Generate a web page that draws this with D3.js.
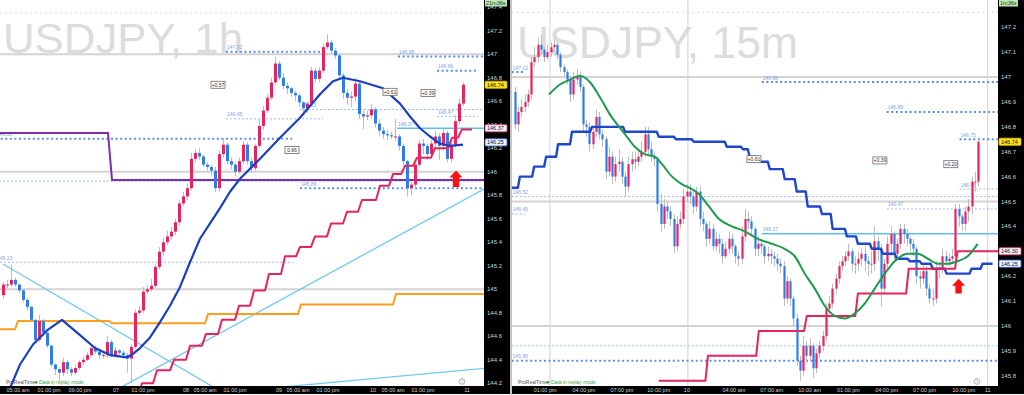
<!DOCTYPE html>
<html>
<head>
<meta charset="utf-8">
<script src="https://cdn.jsdelivr.net/npm/d3@7"></script>
<style>
  body { margin: 0; background: #fff; }
  svg { display: block; font-family: "Liberation Sans", Arial, sans-serif; }
</style>
</head>
<body>
<svg id="svg" width="1024" height="395"></svg>
<script>
// ---------- left chart : USDJPY 1h ----------
var leftTimeLabels = ["05:00 am", "01:00 pm", "09:00 pm", "07", "01:00 pm", "08", "05:00 am", "01:00 pm",
  "09", "05:00 am", "01:00 pm", "10", "05:00 am", "01:00 pm", "11"];
var leftTimeIdx = [3.75, 11.5, 19.25, 28.25, 35, 45.75, 50.5, 58, 69, 73.75, 81.25, 92.5, 97.5, 105, 116];
var leftPriceTicks = [144.2, 144.4, 144.6, 144.8, 145, 145.2, 145.4, 145.6, 145.8, 146, 146.2, 146.4,
  146.6, 146.8, 147, 147.2, 147.4];

var leftOpen = [144.95, 145.04, 145.04, 145.08, 145.04, 144.99, 144.91, 144.85, 144.74, 144.57,
  144.73, 144.63, 144.52, 144.36, 144.32, 144.29, 144.38, 144.32, 144.29, 144.33,
  144.38, 144.40, 144.44, 144.50, 144.47, 144.44, 144.44, 144.55, 144.44, 144.48,
  144.46, 144.44, 144.41, 144.51, 144.80, 144.82, 144.98, 145.00, 145.03, 145.19,
  145.32, 145.40, 145.45, 145.49, 145.57, 145.73, 145.79, 145.86, 146.11, 146.16,
  146.13, 146.06, 146.04, 146.01, 145.86, 146.15, 146.23, 146.09, 146.06, 146.00,
  146.09, 146.23, 146.09, 146.03, 146.22, 146.39, 146.52, 146.63, 146.76, 146.92,
  146.80, 146.73, 146.71, 146.67, 146.65, 146.59, 146.54, 146.58, 146.86, 146.79,
  146.86, 147.06, 147.10, 147.03, 146.99, 146.82, 146.67, 146.63, 146.64, 146.75,
  146.49, 146.47, 146.48, 146.53, 146.41, 146.35, 146.32, 146.31, 146.30, 146.30,
  146.22, 146.09, 145.86, 145.89, 146.06, 146.24, 146.22, 146.15, 146.24, 146.30,
  146.22, 146.33, 146.11, 146.23, 146.43, 146.58];
var leftHigh = [145.06, 145.08, 145.21, 145.10, 145.05, 145.00, 144.93, 144.86, 144.75, 144.78,
  144.75, 144.64, 144.53, 144.37, 144.34, 144.42, 144.40, 144.34, 144.36, 144.40,
  144.43, 144.47, 144.53, 144.52, 144.49, 144.47, 144.60, 144.57, 144.51, 144.49,
  144.48, 144.46, 144.53, 144.83, 144.86, 145.02, 145.04, 145.09, 145.22, 145.36,
  145.44, 145.50, 145.53, 145.60, 145.76, 145.83, 145.90, 146.16, 146.19, 146.20,
  146.15, 146.08, 146.06, 146.04, 146.18, 146.28, 146.25, 146.12, 146.08, 146.12,
  146.26, 146.25, 146.12, 146.24, 146.45, 146.56, 146.66, 146.80, 146.98, 146.94,
  146.84, 146.76, 146.72, 146.69, 146.67, 146.60, 146.60, 146.89, 146.88, 146.89,
  147.09, 147.17, 147.12, 147.05, 147.00, 146.84, 146.70, 146.68, 146.80, 146.77,
  146.52, 146.52, 146.58, 146.55, 146.45, 146.38, 146.36, 146.34, 146.45, 146.32,
  146.24, 146.10, 145.92, 146.08, 146.27, 146.28, 146.24, 146.27, 146.35, 146.33,
  146.36, 146.35, 146.26, 146.48, 146.62, 146.76];
var leftLow = [144.92, 145.01, 145.02, 145.02, 144.97, 144.89, 144.82, 144.72, 144.55, 144.55,
  144.60, 144.50, 144.34, 144.27, 144.22, 144.26, 144.28, 144.26, 144.27, 144.31,
  144.36, 144.39, 144.42, 144.45, 144.41, 144.41, 144.42, 144.42, 144.42, 144.44,
  144.41, 144.29, 144.20, 144.49, 144.78, 144.80, 144.96, 144.98, 145.01, 145.17,
  145.29, 145.38, 145.42, 145.46, 145.54, 145.71, 145.76, 145.84, 146.08, 146.10,
  146.04, 146.01, 145.97, 145.83, 145.83, 146.12, 146.06, 146.02, 145.96, 145.98,
  146.07, 146.06, 145.99, 146.01, 146.20, 146.36, 146.50, 146.61, 146.74, 146.78,
  146.70, 146.66, 146.64, 146.60, 146.55, 146.48, 146.50, 146.56, 146.76, 146.76,
  146.84, 147.04, 147.00, 146.96, 146.79, 146.62, 146.57, 146.55, 146.60, 146.45,
  146.36, 146.44, 146.45, 146.38, 146.30, 146.28, 146.27, 146.28, 146.26, 146.18,
  146.05, 145.79, 145.80, 145.86, 146.04, 146.15, 146.10, 146.12, 146.20, 146.10,
  146.18, 146.08, 146.08, 146.20, 146.40, 146.56];
var leftClose = [145.04, 145.04, 145.08, 145.04, 144.99, 144.91, 144.85, 144.74, 144.57, 144.73,
  144.63, 144.52, 144.36, 144.32, 144.29, 144.38, 144.32, 144.29, 144.33, 144.38,
  144.40, 144.44, 144.50, 144.47, 144.44, 144.44, 144.55, 144.44, 144.48, 144.46,
  144.44, 144.41, 144.51, 144.80, 144.82, 144.98, 145.00, 145.03, 145.19, 145.32,
  145.40, 145.45, 145.49, 145.57, 145.73, 145.79, 145.86, 146.11, 146.16, 146.13,
  146.06, 146.04, 146.01, 145.86, 146.15, 146.23, 146.09, 146.06, 146.00, 146.09,
  146.23, 146.09, 146.03, 146.22, 146.39, 146.52, 146.63, 146.76, 146.92, 146.80,
  146.73, 146.71, 146.67, 146.65, 146.59, 146.54, 146.58, 146.86, 146.79, 146.86,
  147.06, 147.10, 147.03, 146.99, 146.82, 146.67, 146.63, 146.64, 146.75, 146.49,
  146.47, 146.48, 146.53, 146.41, 146.35, 146.32, 146.31, 146.30, 146.30, 146.22,
  146.09, 145.86, 145.89, 146.06, 146.24, 146.22, 146.15, 146.24, 146.30, 146.22,
  146.33, 146.11, 146.23, 146.43, 146.58, 146.74];

// moving average (blue curve)
var leftMaIdx = [1, 1.75, 4.25, 7.5, 11, 14.75, 19.25, 23, 26.75, 31, 32.5, 34.25, 36.75, 39.25, 41.75,
  44.25, 46.75, 49.25, 51.75, 54.25, 56.75, 59.25, 64.25, 69.25, 74.25, 79.25, 82.5, 85, 89.25, 95,
  99.25, 101.75, 104.25, 106.75, 109.25, 111.75, 115];
var leftMaVal = [144.10, 144.16, 144.36, 144.53, 144.65, 144.74, 144.61, 144.50, 144.44, 144.42, 144.45,
  144.50, 144.59, 144.72, 144.86, 145.02, 145.23, 145.43, 145.56, 145.69, 145.83, 145.94, 146.11, 146.29,
  146.46, 146.66, 146.77, 146.80, 146.77, 146.71, 146.58, 146.47, 146.37, 146.30, 146.24, 146.22, 146.23];

// stepped trailing stop (pink)
var leftStopIdx = [33.5, 34.75, 38.5, 42.75, 46.75, 50.75, 54.75, 59, 62.75, 66.5, 70.5, 74.25, 78, 82, 86,
  89.75, 94.25, 97.5, 100.5, 103.5, 108, 112.25, 114.75];
var leftStopVal = [144.08, 144.20, 144.31, 144.40, 144.52, 144.62, 144.74, 144.86, 144.99, 145.13, 145.28,
  145.36, 145.45, 145.56, 145.66, 145.76, 145.88, 145.98, 146.05, 146.12, 146.20, 146.29, 146.36];
var leftStopEnd = 117.25;

// orange step and purple level
var leftOrangeIdx = [-1, 3.75, 27.25, 51.25, 74.5, 98.25];
var leftOrangeVal = [144.66, 144.73, 144.71, 144.79, 144.87, 144.96];
var leftPurpleIdx = [-1, 26.25, 27.25, 121];
var leftPurpleVal = [146.33, 146.33, 145.93, 145.93];

// trend lines [idx1, price1, idx2, price2]
var leftTrends = [[0, 145.215, 55, 144.12], [27, 144.12, 121, 145.867], [70, 144.169, 121, 144.33]];

// horizontal levels [price, fromIdx, toIdx, label]
var leftRound = [147, 146, 145];
var leftTopDotted = [147.35];
var leftThick = [[147.02, 55.75, 80, "147.02"], [146.98, 98.75, 121, "146.98"], [146.86, 108.5, 118.5, "146.86"],
  [146.28, -1.75, 72.25, "146.28"], [145.86, 74.25, 121, "145.86"]];
var leftThin = [[146.45, 55.75, 80, "146.45"], [146.53, 74.25, 121, "146.53"], [146.47, 108.5, 118.75, "146.47"],
  [145.92, -2, 121, ""], [145.23, -1.75, 72.5, "145.23"]];
var leftSolid = [[146.37, 98.5, 121, "146.37"]];

var leftNotes = ["+0.57", "0.66", "+0.61", "+0.39"];
var leftNoteIdx = [53.75, 72.25, 96.75, 106.25];
var leftNoteVal = [146.74, 146.185, 146.68, 146.67];
var leftArrow = [113.25, 146.01, 145.87];
var leftMarkers = [146.74, 146.37, 146.25];

// ---------- right chart : USDJPY 15m ----------
var rightTimeLabels = ["01:00 pm", "04:00 pm", "07:00 pm", "10:00 pm", "10", "04:00 am", "07:00 am",
  "10:00 am", "01:00 pm", "04:00 pm", "07:00 pm", "10:00 pm", "11"];
var rightTimeIdx = [9.3, 21.3, 33, 44.4, 53.1, 67.6, 79.3, 91, 103, 114.8, 126.5, 138.6, 146];
var rightPriceTicks = [145.8, 145.9, 146, 146.1, 146.2, 146.3, 146.4, 146.5, 146.6, 146.7, 146.8, 146.9,
  147, 147.1, 147.2, 147.3];
var rightDayLines = [10.8, 53.4, 146];

var rightOpen = [146.94, 146.81, 146.86, 146.88, 146.90, 146.93, 147.06, 147.08, 147.13, 147.11,
  147.08, 147.10, 147.12, 147.13, 147.09, 147.04, 147.02, 146.99, 146.93, 146.99,
  147.00, 146.96, 146.81, 146.80, 146.73, 146.78, 146.84, 146.77, 146.75, 146.62,
  146.68, 146.60, 146.65, 146.66, 146.60, 146.56, 146.65, 146.67, 146.66, 146.68,
  146.70, 146.77, 146.71, 146.68, 146.67, 146.49, 146.41, 146.48, 146.46, 146.43,
  146.32, 146.41, 146.43, 146.52, 146.54, 146.52, 146.48, 146.54, 146.43, 146.41,
  146.35, 146.39, 146.32, 146.35, 146.33, 146.28, 146.31, 146.35, 146.32, 146.28,
  146.27, 146.36, 146.43, 146.42, 146.39, 146.31, 146.33, 146.32, 146.28, 146.29,
  146.28, 146.27, 146.25, 146.24, 146.11, 146.18, 146.11, 146.03, 145.86, 145.82,
  145.92, 145.88, 145.92, 145.83, 145.89, 145.92, 145.96, 146.07, 146.09, 146.15,
  146.19, 146.24, 146.26, 146.28, 146.30, 146.25, 146.25, 146.27, 146.29, 146.26,
  146.25, 146.25, 146.34, 146.31, 146.15, 146.25, 146.33, 146.37, 146.29, 146.33,
  146.39, 146.37, 146.35, 146.33, 146.31, 146.20, 146.19, 146.22, 146.15, 146.11,
  146.11, 146.23, 146.23, 146.28, 146.26, 146.27, 146.28, 146.47, 146.44, 146.41,
  146.46, 146.48, 146.58, 146.58];
var rightHigh = [146.96, 146.88, 146.91, 146.93, 146.95, 147.08, 147.12, 147.16, 147.17, 147.12,
  147.13, 147.14, 147.15, 147.14, 147.10, 147.05, 147.03, 147.00, 147.02, 147.03,
  147.02, 146.97, 146.83, 146.82, 146.80, 146.87, 146.86, 146.79, 146.76, 146.72,
  146.70, 146.68, 146.71, 146.68, 146.62, 146.68, 146.70, 146.70, 146.71, 146.74,
  146.80, 146.80, 146.74, 146.70, 146.68, 146.53, 146.51, 146.50, 146.48, 146.45,
  146.44, 146.46, 146.55, 146.57, 146.57, 146.54, 146.56, 146.56, 146.46, 146.42,
  146.42, 146.41, 146.38, 146.37, 146.35, 146.34, 146.38, 146.37, 146.33, 146.30,
  146.40, 146.47, 146.46, 146.44, 146.40, 146.36, 146.35, 146.33, 146.32, 146.31,
  146.30, 146.29, 146.27, 146.26, 146.20, 146.19, 146.12, 146.05, 145.88, 145.96,
  145.94, 145.95, 145.93, 145.91, 145.94, 145.98, 146.09, 146.12, 146.17, 146.21,
  146.26, 146.28, 146.30, 146.33, 146.31, 146.28, 146.30, 146.31, 146.32, 146.28,
  146.30, 146.40, 146.36, 146.33, 146.27, 146.36, 146.40, 146.38, 146.35, 146.41,
  146.41, 146.39, 146.36, 146.35, 146.32, 146.22, 146.25, 146.24, 146.17, 146.15,
  146.26, 146.26, 146.31, 146.30, 146.29, 146.31, 146.49, 146.49, 146.45, 146.48,
  146.51, 146.60, 146.62, 146.75];
var rightLow = [146.79, 146.78, 146.84, 146.86, 146.88, 146.91, 147.04, 147.06, 147.09, 147.06,
  147.07, 147.08, 147.10, 147.07, 147.02, 147.00, 146.97, 146.90, 146.91, 146.97,
  146.94, 146.78, 146.76, 146.70, 146.71, 146.76, 146.75, 146.72, 146.59, 146.60,
  146.57, 146.58, 146.62, 146.57, 146.52, 146.54, 146.62, 146.63, 146.64, 146.66,
  146.68, 146.69, 146.66, 146.64, 146.46, 146.38, 146.39, 146.43, 146.40, 146.29,
  146.30, 146.39, 146.41, 146.50, 146.49, 146.45, 146.46, 146.40, 146.38, 146.32,
  146.33, 146.30, 146.30, 146.29, 146.25, 146.27, 146.29, 146.29, 146.25, 146.24,
  146.25, 146.34, 146.39, 146.36, 146.28, 146.28, 146.29, 146.25, 146.26, 146.25,
  146.24, 146.22, 146.21, 146.08, 146.09, 146.08, 146.00, 145.84, 145.78, 145.80,
  145.85, 145.86, 145.79, 145.81, 145.87, 145.90, 145.94, 146.05, 146.07, 146.13,
  146.17, 146.22, 146.24, 146.26, 146.22, 146.21, 146.22, 146.24, 146.22, 146.20,
  146.21, 146.22, 146.26, 146.08, 146.13, 146.23, 146.28, 146.26, 146.27, 146.31,
  146.33, 146.32, 146.30, 146.28, 146.17, 146.15, 146.17, 146.12, 146.09, 146.08,
  146.09, 146.19, 146.21, 146.24, 146.24, 146.25, 146.26, 146.40, 146.38, 146.38,
  146.42, 146.45, 146.54, 146.56];
var rightClose = [146.81, 146.86, 146.88, 146.90, 146.93, 147.06, 147.08, 147.13, 147.11, 147.08,
  147.10, 147.12, 147.13, 147.09, 147.04, 147.02, 146.99, 146.93, 146.99, 147.00,
  146.96, 146.81, 146.80, 146.73, 146.78, 146.84, 146.77, 146.75, 146.62, 146.68,
  146.60, 146.65, 146.66, 146.60, 146.56, 146.65, 146.67, 146.66, 146.68, 146.70,
  146.77, 146.71, 146.68, 146.67, 146.49, 146.41, 146.48, 146.46, 146.43, 146.32,
  146.41, 146.43, 146.52, 146.54, 146.52, 146.48, 146.54, 146.43, 146.41, 146.35,
  146.39, 146.32, 146.35, 146.33, 146.28, 146.31, 146.35, 146.32, 146.28, 146.27,
  146.36, 146.43, 146.42, 146.39, 146.31, 146.33, 146.32, 146.28, 146.29, 146.28,
  146.27, 146.25, 146.24, 146.11, 146.18, 146.11, 146.03, 145.86, 145.82, 145.92,
  145.88, 145.92, 145.83, 145.89, 145.92, 145.96, 146.07, 146.09, 146.15, 146.19,
  146.24, 146.26, 146.28, 146.30, 146.25, 146.25, 146.27, 146.29, 146.26, 146.25,
  146.25, 146.34, 146.31, 146.15, 146.25, 146.33, 146.37, 146.29, 146.33, 146.39,
  146.37, 146.35, 146.33, 146.31, 146.20, 146.19, 146.22, 146.15, 146.11, 146.11,
  146.23, 146.23, 146.28, 146.26, 146.27, 146.28, 146.47, 146.44, 146.41, 146.46,
  146.48, 146.58, 146.58, 146.74];

// green moving average
var rightMaIdx = [10.5, 13.9, 17, 20.1, 23.1, 26.2, 29.3, 34, 37, 40.1, 43.2, 45.4, 48.5, 51.5, 54.6, 56.8,
  59.9, 63, 67, 71, 75, 79.3, 83.3, 86.4, 89.5, 92.6, 95.7, 98.8, 101.9, 104.9, 108, 111.1, 114.2, 117.3,
  121.3, 124.4, 127.5, 130.6, 133.6, 136.7, 139.8, 142.9];
var rightMaVal = [146.93, 146.97, 146.99, 147.005, 146.98, 146.92, 146.85, 146.77, 146.72, 146.69, 146.68,
  146.65, 146.60, 146.57, 146.55, 146.53, 146.48, 146.43, 146.40, 146.38, 146.35, 146.33, 146.31, 146.28,
  146.21, 146.15, 146.08, 146.04, 146.03, 146.05, 146.09, 146.15, 146.21, 146.26, 146.29, 146.29, 146.27,
  146.25, 146.25, 146.26, 146.28, 146.33];

// blue stepped line
var rightBlueIdx = [-1, 1.5, 5.9, 9.6, 13.3, 17.6, 23.8, 34, 44.4, 49.7, 55.2, 65.4, 70.4, 72.5, 75, 78.7,
  83.3, 87, 90.4, 94.8, 98.1, 102.5, 105.9, 110.2, 113.6, 117.9, 121.9, 125.6, 129, 133.3, 141, 144.4];
var rightBlueVal = [146.555, 146.60, 146.64, 146.68, 146.73, 146.78, 146.80, 146.78, 146.76, 146.75, 146.74,
  146.72, 146.71, 146.68, 146.66, 146.63, 146.59, 146.54, 146.48, 146.45, 146.39, 146.36, 146.33, 146.31,
  146.29, 146.27, 146.26, 146.25, 146.23, 146.21, 146.23, 146.25];
var rightBlueEnd = 147.5;

// pink stepped trailing stop
var rightStopIdx = [44.4, 59.6, 75.3, 90.1, 105.9, 121.6, 136.7];
var rightStopVal = [145.78, 145.88, 145.98, 146.04, 146.13, 146.23, 146.30];
var rightStopEnd = 150;

var rightRound = [147, 146.5, 146];
var rightTopDotted = [147.26];
var rightThick = [[147.02, -1, 2.8, "147.02"], [146.98, 76.2, 150, "146.98"], [146.86, 114.8, 150, "146.86"],
  [146.75, 137.3, 150, "146.75"], [145.86, -1, 150, "145.86"]];
var rightThin = [[146.52, -1, 150, "146.52"], [146.45, -1, 3.1, "146.45"], [146.55, 137.3, 150, "146.55"],
  [146.47, 114.8, 150, "146.47"], [145.92, -1, 150, ""]];
var rightSolid = [[146.37, 76.2, 150, "146.37"]];

var rightNotes = ["+0.61", "+0.39", "+0.20"];
var rightNoteIdx = [73.8, 112.7, 134.6];
var rightNoteVal = [146.67, 146.665, 146.65];
var rightArrow = [137, 146.19, 146.13];
var rightMarkers = [146.74, 146.30, 146.25];

// ---------- drawing ----------
var svg = d3.select("#svg");
var plotBottom = 386;
var stripBottom = 394;
var upColor = "#e8245f";
var downColor = "#2e7ee6";

function stepPoints(idx, val, end, riser) {
  var pts = [];
  idx.forEach(function (d, k) {
    var stop = k < idx.length - 1 ? idx[k + 1] - riser : end;
    pts.push([d, val[k]], [stop, val[k]]);
  });
  return pts;
}

function zip(a, b) {
  return a.map(function (d, i) { return [d, b[i]]; });
}

function drawPanel(c) {
  var x = d3.scaleLinear().domain(c.xDomain).range(c.xRange);
  var y = d3.scaleLinear().domain(c.yDomain).range(c.yRange);
  var line = d3.line().x(function (d) { return x(d[0]); }).y(function (d) { return y(d[1]); });

  svg.append("clipPath").attr("id", "clip-" + c.id)
    .append("rect").attr("x", c.left).attr("y", 0)
    .attr("width", c.right - c.left).attr("height", plotBottom);

  var plot = svg.append("g").attr("clip-path", "url(#clip-" + c.id + ")");

  // watermark title
  plot.append("text")
    .attr("x", c.title.x).attr("y", c.title.y)
    .attr("font-size", c.title.size)
    .attr("textLength", c.title.width).attr("lengthAdjust", "spacingAndGlyphs")
    .attr("fill", "#dcdcdc")
    .text(c.title.text);

  // day separators
  plot.selectAll(".vline").data(c.dayLines || []).enter().append("line")
    .attr("x1", function (d) { return x(d); }).attr("x2", function (d) { return x(d); })
    .attr("y1", 0).attr("y2", plotBottom)
    .attr("stroke", "#d2d2d2").attr("stroke-width", 1);

  // top dotted line and round number lines
  plot.selectAll(".topdot").data(c.topDotted).enter().append("line")
    .attr("x1", c.left).attr("x2", c.right)
    .attr("y1", function (d) { return y(d); }).attr("y2", function (d) { return y(d); })
    .attr("stroke", "#d6d6d6").attr("stroke-dasharray", "2,3");
  plot.selectAll(".round").data(c.round).enter().append("line")
    .attr("x1", c.left).attr("x2", c.right)
    .attr("y1", function (d) { return y(d); }).attr("y2", function (d) { return y(d); })
    .attr("stroke", "#d3d3d3").attr("stroke-width", 2);

  // horizontal levels
  function levels(data, stroke, width, dash) {
    var grp = plot.append("g");
    grp.selectAll("line").data(data).enter().append("line")
      .attr("x1", function (d) { return x(d[1]); }).attr("x2", function (d) { return x(d[2]); })
      .attr("y1", function (d) { return y(d[0]); }).attr("y2", function (d) { return y(d[0]); })
      .attr("stroke", stroke).attr("stroke-width", width)
      .attr("stroke-dasharray", dash);
    grp.selectAll("text").data(data).enter().append("text")
      .attr("x", function (d) { return x(d[1]) + 1; })
      .attr("y", function (d) { return y(d[0]) - 2.5; })
      .attr("font-size", 5).attr("fill", "#7fa5e4")
      .text(function (d) { return d[3]; });
  }
  levels(c.thin, "#9fbce9", 1, "2,2");
  levels(c.solid, "#5cc1f0", 1.5, null);
  levels(c.thick, "#5a8fe6", 2, "2,2.6");

  // trend lines
  plot.selectAll(".trend").data(c.trends || []).enter().append("line")
    .attr("x1", function (d) { return x(d[0]); }).attr("y1", function (d) { return y(d[1]); })
    .attr("x2", function (d) { return x(d[2]); }).attr("y2", function (d) { return y(d[3]); })
    .attr("stroke", "#72c8ef").attr("stroke-width", 1.3);

  // orange and purple lines
  if (c.orange) {
    plot.append("path").datum(c.orange).attr("d", line)
      .attr("fill", "none").attr("stroke", "#ff9d1c").attr("stroke-width", 2);
  }
  if (c.purple) {
    plot.append("path").datum(c.purple).attr("d", line)
      .attr("fill", "none").attr("stroke", "#7c2db2").attr("stroke-width", 2);
  }

  // candles
  var bars = c.close.map(function (v, i) {
    return { i: i, o: c.open[i], h: c.high[i], l: c.low[i], c: v };
  });
  plot.append("g").selectAll("line").data(bars).enter().append("line")
    .attr("x1", function (d) { return Math.round(x(d.i)) + 0.5; })
    .attr("x2", function (d) { return Math.round(x(d.i)) + 0.5; })
    .attr("y1", function (d) { return y(Math.max(d.h, d.o, d.c)); })
    .attr("y2", function (d) { return y(Math.min(d.l, d.o, d.c)); })
    .attr("stroke", "#bcbcbc").attr("stroke-width", 1);
  plot.append("g").selectAll("rect").data(bars).enter().append("rect")
    .attr("x", function (d) { return Math.round(x(d.i)) + 0.5 - c.bodyW / 2; })
    .attr("width", c.bodyW)
    .attr("y", function (d) { return y(Math.max(d.o, d.c)); })
    .attr("height", function (d) { return Math.max(1, Math.abs(y(d.o) - y(d.c))); })
    .attr("fill", function (d) { return d.c >= d.o ? upColor : downColor; });

  // indicator lines
  c.paths.forEach(function (p) {
    plot.append("path").datum(p.pts)
      .attr("d", line.curve(p.curve || d3.curveLinear))
      .attr("fill", "none").attr("stroke", p.color).attr("stroke-width", p.width)
      .attr("stroke-linejoin", "round");
  });
  line.curve(d3.curveLinear);

  // annotation boxes
  var notes = plot.append("g").selectAll("g").data(c.notes).enter().append("g")
    .attr("transform", function (d) { return "translate(" + x(d[0]) + "," + y(d[1]) + ")"; });
  notes.append("rect").attr("x", -7).attr("y", -3.5).attr("width", 14).attr("height", 7)
    .attr("fill", "#fff").attr("stroke", "#6b6b6b").attr("stroke-width", 0.8);
  notes.append("text").attr("text-anchor", "middle").attr("y", 1.8)
    .attr("font-size", 5).attr("fill", "#333")
    .text(function (d) { return d[2]; });

  // red arrow
  var ax = x(c.arrow[0]), at = y(c.arrow[1]), ab = y(c.arrow[2]);
  plot.append("path")
    .attr("d", "M" + ax + "," + at + "L" + (ax + 6.5) + "," + (at + 7) + "L" + (ax + 3.2) + "," + (at + 7) +
      "L" + (ax + 3.2) + "," + ab + "L" + (ax - 3.2) + "," + ab + "L" + (ax - 3.2) + "," + (at + 7) +
      "L" + (ax - 6.5) + "," + (at + 7) + "Z")
    .attr("fill", "#ff1010");

  // footer
  plot.append("text").attr("x", c.left + 6).attr("y", 384).attr("font-size", 5).attr("fill", "#555")
    .text("ProRealTime");
  plot.append("circle").attr("cx", c.left + 36).attr("cy", 382.3).attr("r", 1.4).attr("fill", "#3daa3d");
  plot.append("text").attr("x", c.left + 39).attr("y", 384).attr("font-size", 5).attr("fill", "#4e9e3e")
    .text("Data in replay mode");
  plot.append("circle").attr("cx", c.infoX).attr("cy", 381.5).attr("r", 2.8)
    .attr("fill", "#fff").attr("stroke", "#9a9a9a").attr("stroke-width", 0.8);
  plot.append("text").attr("x", c.infoX).attr("y", 383.3).attr("text-anchor", "middle")
    .attr("font-size", 5).attr("fill", "#777").text("i");

  // price axis strip
  svg.append("rect").attr("x", c.right).attr("y", 0).attr("width", c.axisW).attr("height", stripBottom)
    .attr("fill", "#000");
  svg.append("rect").attr("x", c.left).attr("y", plotBottom).attr("width", c.right + c.axisW - c.left)
    .attr("height", stripBottom - plotBottom).attr("fill", "#000");

  svg.append("g").selectAll("text").data(c.priceTicks).enter().append("text")
    .attr("x", c.right + 3).attr("y", function (d) { return y(d) + 2; })
    .attr("font-size", 6).attr("fill", "#cfcfcf")
    .text(function (d) { return String(+d.toFixed(1)); });

  svg.append("g").selectAll("text").data(c.timeTicks).enter().append("text")
    .attr("x", function (d) { return x(d[0]); }).attr("y", 392.3)
    .attr("text-anchor", "middle").attr("font-size", 5.5).attr("fill", "#d2d2d2")
    .text(function (d) { return d[1]; });

  // price markers on the axis
  var mk = svg.append("g").selectAll("g").data(c.markers).enter().append("g")
    .attr("transform", function (d) { return "translate(" + (c.right + 1) + "," + y(d) + ")"; });
  mk.append("rect").attr("x", 0).attr("y", -3.6).attr("width", 22).attr("height", 7.2).attr("rx", 1)
    .attr("fill", function (d, i) { return c.markerFill[i]; })
    .attr("stroke", function (d, i) { return c.markerStroke[i]; }).attr("stroke-width", 0.8);
  mk.append("text").attr("x", 2).attr("y", 2).attr("font-size", 5.5).attr("fill", "#111")
    .text(function (d) { return d.toFixed(2); });

  // countdown box
  svg.append("rect").attr("x", c.right + 1).attr("y", 0).attr("width", c.timerW).attr("height", 6.5)
    .attr("fill", "#bfe9b4");
  svg.append("text").attr("x", c.right + 2).attr("y", 5.3).attr("font-size", 5.5).attr("fill", "#1d3a1d")
    .text(c.timer);
}

drawPanel({
  id: "left",
  left: 0, right: 484, axisW: 26,
  xDomain: [0, 115], xRange: [3, 463],
  yDomain: [144.2, 147.2], yRange: [383.3, 30.7],
  bodyW: 3,
  title: { text: "USDJPY, 1h", x: 3, y: 53, size: 42, width: 240 },
  round: leftRound, topDotted: leftTopDotted,
  thick: leftThick, thin: leftThin, solid: leftSolid,
  trends: leftTrends,
  orange: stepPoints(leftOrangeIdx, leftOrangeVal, 121, 0.75),
  purple: zip(leftPurpleIdx, leftPurpleVal),
  open: leftOpen, high: leftHigh, low: leftLow, close: leftClose,
  paths: [
    { pts: stepPoints(leftStopIdx, leftStopVal, leftStopEnd, 1), color: "#e6245c", width: 2 },
    { pts: zip(leftMaIdx, leftMaVal), color: "#1c3fc0", width: 2.2 }
  ],
  notes: leftNoteIdx.map(function (d, i) { return [d, leftNoteVal[i], leftNotes[i]]; }),
  arrow: leftArrow,
  infoX: 462,
  priceTicks: leftPriceTicks,
  timeTicks: zip(leftTimeIdx, leftTimeLabels),
  markers: leftMarkers,
  markerFill: ["#ffe11c", "#fdeef2", "#eaf1ff"],
  markerStroke: ["#d9b800", "#e0457a", "#3d6fd8"],
  timer: "21m36s", timerW: 22
});

drawPanel({
  id: "right",
  left: 512, right: 998, axisW: 26,
  xDomain: [0, 143], xRange: [515, 978],
  yDomain: [145.8, 147.2], yRange: [375.7, 27.3],
  bodyW: 2.2,
  title: { text: "USDJPY, 15m", x: 517, y: 58, size: 45, width: 281 },
  dayLines: rightDayLines,
  round: rightRound, topDotted: rightTopDotted,
  thick: rightThick, thin: rightThin, solid: rightSolid,
  open: rightOpen, high: rightHigh, low: rightLow, close: rightClose,
  paths: [
    { pts: stepPoints(rightBlueIdx, rightBlueVal, rightBlueEnd, 0.6), color: "#1f47cc", width: 2.4 },
    { pts: stepPoints(rightStopIdx, rightStopVal, rightStopEnd, 0.8), color: "#e6245c", width: 2 },
    { pts: zip(rightMaIdx, rightMaVal), color: "#1f9a4e", width: 2, curve: d3.curveMonotoneX }
  ],
  notes: rightNoteIdx.map(function (d, i) { return [d, rightNoteVal[i], rightNotes[i]]; }),
  arrow: rightArrow,
  infoX: 977,
  priceTicks: rightPriceTicks,
  timeTicks: zip(rightTimeIdx, rightTimeLabels),
  markers: rightMarkers,
  markerFill: ["#ffe11c", "#fdeef2", "#eaf1ff"],
  markerStroke: ["#d9b800", "#e0457a", "#3d6fd8"],
  timer: "1m36s", timerW: 19
});

// divider between the two charts
svg.append("rect").attr("x", 510).attr("y", 0).attr("width", 2).attr("height", 395).attr("fill", "#c6c6c6");
</script>
</body>
</html>
